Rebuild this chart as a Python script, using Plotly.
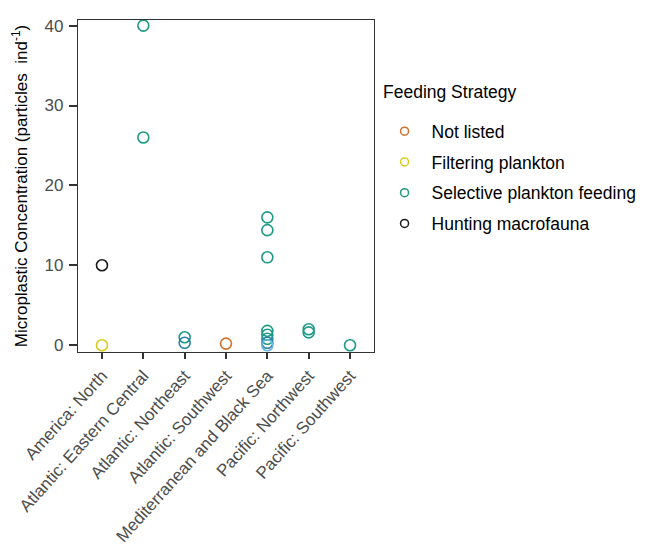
import plotly.graph_objects as go

categories = ["America: North", "Atlantic: Eastern Central", "Atlantic: Northeast",
              "Atlantic: Southwest", "Mediterranean and Black Sea",
              "Pacific: Northwest", "Pacific: Southwest"]

not_listed_x = ["Atlantic: Southwest"]
not_listed_y = [0.2]

filtering_x = ["America: North"]
filtering_y = [0.0]

selective_x = ["Atlantic: Eastern Central", "Atlantic: Eastern Central",
               "Atlantic: Northeast",
               "Mediterranean and Black Sea", "Mediterranean and Black Sea",
               "Mediterranean and Black Sea", "Mediterranean and Black Sea",
               "Mediterranean and Black Sea", "Mediterranean and Black Sea",
               "Pacific: Northwest", "Pacific: Northwest",
               "Pacific: Southwest"]
selective_y = [40.0, 26.0, 1.0, 16.0, 14.4, 11.0, 1.8, 1.3, 0.8,
               2.0, 1.6, 0.0]

hunting_x = ["America: North"]
hunting_y = [10.0]

other_blue_x = ["Atlantic: Northeast", "Mediterranean and Black Sea"]
other_blue_y = [0.3, 0.3]
other_sky_x = ["Mediterranean and Black Sea"]
other_sky_y = [0.0]

series = [
    ("Not listed", "#D0702A", not_listed_x, not_listed_y, True),
    ("Filtering plankton", "#D8CC20", filtering_x, filtering_y, True),
    ("Selective plankton feeding", "#1E9A86", selective_x, selective_y, True),
    ("Hunting macrofauna", "#1a1a1a", hunting_x, hunting_y, True),
    ("other1", "#2A7FA8", other_blue_x, other_blue_y, False),
    ("other2", "#66B8E0", other_sky_x, other_sky_y, False),
]

fig = go.Figure()
for name, col, xs, ys, sl in series:
    fig.add_trace(go.Scatter(
        x=xs, y=ys, mode="markers", name=name, showlegend=False,
        marker=dict(symbol="circle-open", size=11, color=col,
                    line=dict(width=1.6, color=col)),
    ))
# legend entries (smaller keys, as in the reference)
for name, col, xs, ys, sl in series:
    if sl:
        fig.add_trace(go.Scatter(
            x=[None], y=[None], mode="markers", name=name, showlegend=True,
            legendgroup=name,
            marker=dict(symbol="circle-open", size=8, color=col,
                        line=dict(width=1.5, color=col)),
        ))

fig.update_layout(
    width=651, height=555,
    margin=dict(l=78, r=277, t=20, b=203, autoexpand=False),
    paper_bgcolor="white", plot_bgcolor="white",
    font=dict(family="Liberation Sans, Arial, sans-serif", size=17, color="#4d4d4d"),
    showlegend=True,
    legend=dict(
        font=dict(size=17.5, color="#000"),
        x=1.012, y=0.719, xanchor="left", yanchor="top",
        tracegroupgap=5, itemsizing="trace", itemwidth=44,
        bgcolor="rgba(0,0,0,0)",
    ),
    annotations=[dict(
        text="Feeding Strategy", xref="paper", yref="paper",
        x=(381 - 78) / 296, y=(352 - 92) / 332, xanchor="left", yanchor="middle",
        showarrow=False, font=dict(size=17.5, color="#000"),
    )],
)
fig.update_xaxes(
    type="category", categoryorder="array", categoryarray=categories,
    range=[-0.58, 6.58], tickangle=-48, automargin=False,
    showline=True, linecolor="#333", linewidth=1.2, mirror=True,
    ticks="outside", ticklen=6, tickcolor="#333", tickwidth=1.5,
    showgrid=False, zeroline=False,
    tickfont=dict(size=17, color="#4d4d4d"),
)
fig.update_yaxes(
    range=[-0.85, 40.7], tickvals=[0, 10, 20, 30, 40], automargin=False,
    showline=True, linecolor="#333", linewidth=1.2, mirror=True,
    ticks="outside", ticklen=8, tickcolor="#333", tickwidth=1.5,
    showgrid=False, zeroline=False, ticklabelstandoff=2,
    tickfont=dict(size=17, color="#4d4d4d"),
    title=dict(text="Microplastic Concentration (particles  ind<sup>-1</sup>)",
               font=dict(size=17, color="#000"), standoff=12),
)

fig.write_html("out.html")
